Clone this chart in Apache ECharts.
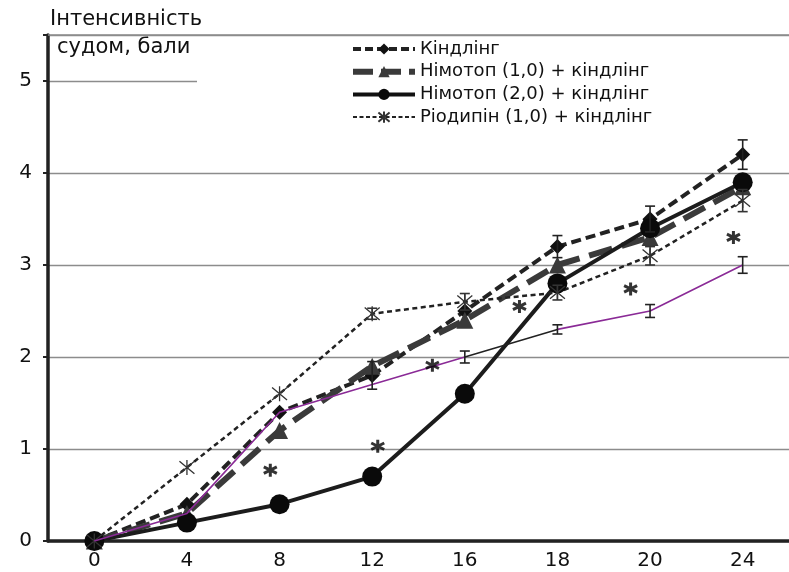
<!DOCTYPE html>
<html><head><meta charset="utf-8">
<script src="https://cdn.jsdelivr.net/npm/echarts@6/dist/echarts.min.js"></script>
<style>html,body{margin:0;padding:0;background:#fff}#c{width:789px;height:572px}</style>
</head><body><div id="c"></div>
<script>
const categories = ['0','4','8','12','16','18','20','24'];
const seriesNames = ['Кіндлінг','Німотоп (1,0) + кіндлінг','Німотоп (2,0) + кіндлінг','Ріодипін (1,0) + кіндлінг'];
const kindling   = [0, 0.4, 1.4, 1.8, 2.5, 3.2, 3.5, 4.2];
const nimotop1   = [0, 0.3, 1.2, 1.9, 2.4, 3.0, 3.3, 3.85];
const nimotop2   = [0, 0.2, 0.4, 0.7, 1.6, 2.8, 3.4, 3.9];
const riodipin   = [0, 0.8, 1.6, 2.47, 2.6, 2.7, 3.1, 3.7];
const extraLine  = [0, 0.3, 1.4, 1.7, 2.0, 2.3, 2.5, 3.0];
const kindlingErr = [null, null, null, 0.15, null, 0.12, 0.14, 0.16];
const riodipinErr = [null, null, null, 0.06, 0.09, 0.08, 0.1, 0.12];
const extraErr    = [null, null, null, null, 0.065, 0.05, 0.07, 0.09];
const starX = [1.9, 3.06, 3.65, 4.59, 5.79, 6.9];
const starY = [0.77, 1.03, 1.91, 2.55, 2.74, 3.3];
const yTicks = [0, 1, 2, 3, 4, 5];

const chart = echarts.init(document.getElementById('c'));
const FONT = '"DejaVu Sans", "Liberation Sans", Arial, sans-serif';
const asterisk = 'path://M0,0 L10,10 M10,0 L0,10 M5,-1 L5,11';
const boldStar = 'path://M5,0 L5,10 M0.67,2.5 L9.33,7.5 M0.67,7.5 L9.33,2.5';

function errSeries(vals, errs, color) {
  const data = [];
  vals.forEach((v, i) => { if (errs[i] != null) data.push([i, v, errs[i]]); });
  return {
    type: 'custom', xAxisIndex: 0, yAxisIndex: 0, z: 5, silent: true,
    data: data,
    renderItem: function (params, api) {
      const x = api.value(0), y = api.value(1), e = api.value(2);
      const top = api.coord([x, y + e]);
      const bot = api.coord([x, y - e]);
      const w = 5;
      const st = { stroke: color, lineWidth: 1.6, fill: null };
      return { type: 'group', children: [
        { type: 'line', shape: { x1: top[0], y1: top[1], x2: bot[0], y2: bot[1] }, style: st },
        { type: 'line', shape: { x1: top[0] - w, y1: top[1], x2: top[0] + w, y2: top[1] }, style: st },
        { type: 'line', shape: { x1: bot[0] - w, y1: bot[1], x2: bot[0] + w, y2: bot[1] }, style: st }
      ]};
    }
  };
}

const legendLines = [
  { width: 4, type: [8, 4], color: '#222' },
  { width: 6, type: [20, 8], color: '#3a3a3a' },
  { width: 4, type: 'solid', color: '#111' },
  { width: 2, type: [4, 2.5], color: '#222' }
];

const option = {
  animation: false,
  backgroundColor: '#fff',
  textStyle: { fontFamily: FONT },
  grid: { left: 48, top: 35, right: -8, bottom: 31, containLabel: false },
  legend: {
    orient: 'vertical', left: 197, top: 37,
    padding: [3, 220, 6, 153],
    backgroundColor: '#fff',
    itemWidth: 62, itemHeight: 14, itemGap: 4.7,
    textStyle: { fontFamily: FONT, fontSize: 18, color: '#111' },
    data: seriesNames.map((n, i) => ({ name: n, lineStyle: legendLines[i] }))
  },
  visualMap: {
    show: false, type: 'piecewise', seriesIndex: 4, dimension: 0,
    pieces: [
      { lt: 4, color: '#8a2a96' },
      { gte: 4, lt: 5, color: '#222' },
      { gte: 5, color: '#8a2a96' }
    ]
  },
  xAxis: [{
    type: 'category', data: categories, boundaryGap: true,
    axisLine: { lineStyle: { color: '#222', width: 3.5 } },
    axisTick: { alignWithLabel: true, length: 4, lineStyle: { color: '#222', width: 2 } },
    axisLabel: { fontFamily: FONT, fontSize: 20, color: '#111', margin: 10 },
    splitLine: { show: false }
  }, {
    type: 'value', min: -0.5, max: 7.5, position: 'top',
    axisLine: { show: true, onZero: false, lineStyle: { color: '#8c8c8c', width: 1.5 } },
    axisTick: { show: false }, axisLabel: { show: false }, splitLine: { show: false }
  }],
  yAxis: {
    type: 'value', min: 0, max: 5.5, interval: 1,
    axisLine: { show: true, onZero: false, lineStyle: { color: '#222', width: 3.5 } },
    axisTick: { show: true, length: 5, lineStyle: { color: '#222', width: 2 } },
    axisLabel: { fontFamily: FONT, fontSize: 20, color: '#111', margin: 16,
      formatter: v => (yTicks.indexOf(v) >= 0 ? String(v) : '') },
    splitLine: { show: true, lineStyle: { color: '#8c8c8c', width: 1.3 } }
  },
  graphic: [
    { type: 'text', left: 50, top: 9, style: { text: 'Інтенсивність', font: '21px ' + FONT, fill: '#111' } },
    { type: 'text', left: 57, top: 37, style: { text: 'судом, бали', font: '21px ' + FONT, fill: '#111' } }
  ],
  series: [
    { name: seriesNames[0], type: 'line', data: kindling, z: 3,
      symbol: 'diamond', symbolSize: 15, showAllSymbol: true,
      lineStyle: { color: '#222', width: 4, type: [10, 5] },
      itemStyle: { color: '#111' } },
    { name: seriesNames[1], type: 'line', data: nimotop1, z: 3,
      symbol: 'triangle', symbolSize: 17, showAllSymbol: true,
      lineStyle: { color: '#3a3a3a', width: 6, type: [24, 10] },
      itemStyle: { color: '#3a3a3a' } },
    { name: seriesNames[2], type: 'line', data: nimotop2, z: 3,
      symbol: 'circle', symbolSize: 20, showAllSymbol: true,
      lineStyle: { color: '#1c1c1c', width: 4 },
      itemStyle: { color: '#0a0a0a' } },
    { name: seriesNames[3], type: 'line', data: riodipin, z: 3,
      symbol: asterisk, symbolSize: 15, showAllSymbol: true,
      lineStyle: { color: '#222', width: 2.5, type: [5, 3.5] },
      itemStyle: { color: 'rgba(0,0,0,0)', borderColor: '#333', borderWidth: 1.3 } },
    { name: 'extra', type: 'line', data: extraLine, z: 4,
      symbol: 'none', lineStyle: { width: 1.6 } },
    errSeries(kindling, kindlingErr, '#222'),
    errSeries(riodipin, riodipinErr, '#333'),
    errSeries(extraLine, extraErr, '#222'),
    { name: 'stars', type: 'scatter', xAxisIndex: 1, yAxisIndex: 0, z: 6, silent: true,
      data: starX.map((x, i) => [x, starY[i]]),
      symbol: boldStar, symbolSize: 13,
      itemStyle: { color: 'rgba(0,0,0,0)', borderColor: '#000', borderWidth: 3 } }
  ]
};
chart.setOption(option);
</script>
</body></html>
